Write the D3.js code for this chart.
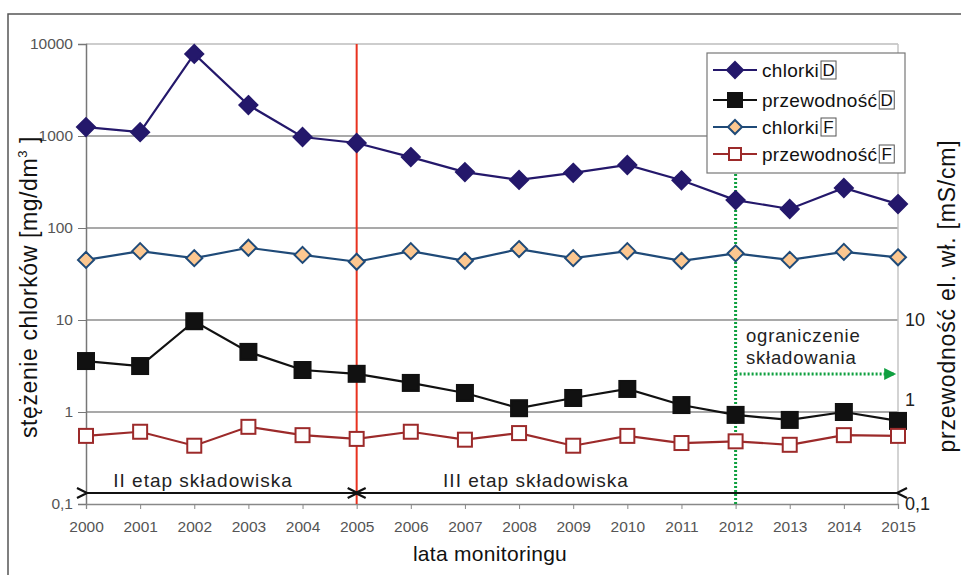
<!DOCTYPE html>
<html><head><meta charset="utf-8">
<script src="https://cdn.jsdelivr.net/npm/d3@7"></script>
<style>body{margin:0;background:#fff;} text{font-family:"Liberation Sans",Arial,sans-serif;}</style>
</head><body>
<svg id="c" width="961" height="575"></svg>
<script>
const years = [2000,2001,2002,2003,2004,2005,2006,2007,2008,2009,2010,2011,2012,2013,2014,2015];
const chlorkiD = [1250,1100,7800,2170,975,840,590,405,333,398,484,330,201,161,272,182];
const przewD   = [3.58,3.16,9.7,4.5,2.86,2.6,2.07,1.61,1.1,1.42,1.78,1.19,0.93,0.82,1.0,0.8];
const chlorkiF = [45,56,47,61,51,43,56,44,59,47,56,44,53,45,55,48];
const przewF   = [0.55,0.61,0.43,0.69,0.56,0.51,0.61,0.5,0.59,0.43,0.55,0.46,0.48,0.44,0.56,0.55];
const leftTicks = [0.1,1,10,100,1000,10000];
const leftTickLabels = ["0,1","1","10","100","1000","10000"];
const rightTicks = [0.1,1,10];
const rightTickLabels = ["0,1","1","10"];
const seriesNames = ["chlorki","przewodność","chlorki","przewodność"];
const seriesTags = ["D","D","F","F"];

const svg = d3.select("#c");
const x = d3.scaleLinear().domain([2000,2015]).range([86,898]);
const y = d3.scaleLog().domain([0.1,10000]).range([504,44]);

// outer frame
svg.append("path").attr("d","M8,575 L8,14 L961,14").attr("fill","none").attr("stroke","#555").attr("stroke-width",1.5);

// gridlines
svg.append("g").selectAll("line").data(leftTicks.slice(1)).join("line")
  .attr("x1",86).attr("x2",898).attr("y1",d=>y(d)).attr("y2",d=>y(d))
  .attr("stroke",d=>d===10000?"#bdbdbd":"#8c8c8c").attr("stroke-width",1.3);
// right axis line
svg.append("line").attr("x1",898).attr("x2",898).attr("y1",44).attr("y2",504).attr("stroke","#c4c4c4").attr("stroke-width",1.5);

// left axis
const la = svg.append("g").attr("transform","translate(86,0)")
  .call(d3.axisLeft(y).tickValues(leftTicks).tickFormat((d,i)=>leftTickLabels[i]).tickSize(8).tickPadding(5));
la.select(".domain").attr("stroke","#777").attr("stroke-width",1.5);
la.selectAll(".tick line").attr("stroke","#777");
la.selectAll("text").attr("font-size",15.5).attr("fill","#555").style("font-family","Liberation Sans, Arial");

// bottom axis
const ba = svg.append("g").attr("transform","translate(0,504)")
  .call(d3.axisBottom(x).tickValues(years).tickFormat(d3.format("d")).tickSize(5).tickPadding(12));
ba.select(".domain").attr("stroke","#888").attr("stroke-width",1.3);
ba.selectAll(".tick line").attr("stroke","#888");
ba.selectAll("text").attr("font-size",15.5).attr("fill","#555").style("font-family","Liberation Sans, Arial");

// right tick labels
svg.append("g").selectAll("text").data(rightTicks).join("text")
  .attr("x",905).attr("y",d=>d===1?y(d)-12:y(d)).attr("dy","0.35em")
  .attr("font-size",18).attr("fill","#222").text((d,i)=>rightTickLabels[i]);

// red vertical line at 2005
svg.append("line").attr("x1",x(2005)).attr("x2",x(2005)).attr("y1",44).attr("y2",504).attr("stroke","#e8321f").attr("stroke-width",2);

// green dotted
svg.append("defs").html(`
 <marker id="gh" viewBox="0 0 10 10" refX="9" refY="5" markerWidth="14" markerHeight="12" markerUnits="userSpaceOnUse" orient="auto"><path d="M0,0 L10,5 L0,10 Z" fill="#0fa040"/></marker>
 <marker id="ah" viewBox="0 0 12 12" refX="1" refY="6" markerWidth="12" markerHeight="12" markerUnits="userSpaceOnUse" orient="auto-start-reverse"><path d="M11,1 L1,6 L11,11" fill="none" stroke="#111" stroke-width="2.2"/></marker>
`);
svg.append("line").attr("x1",x(2012)).attr("x2",x(2012)).attr("y1",174).attr("y2",504)
  .attr("stroke","#0fa040").attr("stroke-width",3).attr("stroke-dasharray","2,2");
svg.append("line").attr("x1",x(2012)).attr("x2",x(2015)-3).attr("y1",374).attr("y2",374)
  .attr("stroke","#0fa040").attr("stroke-width",3).attr("stroke-dasharray","2,2").attr("marker-end","url(#gh)");
svg.append("text").attr("x",746).attr("y",342).attr("font-size",18.5).attr("letter-spacing",0.8).attr("fill","#222").text("ograniczenie");
svg.append("text").attr("x",746).attr("y",364).attr("font-size",18.5).attr("letter-spacing",0.8).attr("fill","#222").text("składowania");

// stage arrows
svg.append("line").attr("x1",x(2000)+1).attr("x2",x(2005)-1).attr("y1",493).attr("y2",493)
  .attr("stroke","#111").attr("stroke-width",2).attr("marker-start","url(#ah)").attr("marker-end","url(#ah)");
svg.append("line").attr("x1",x(2005)+1).attr("x2",x(2015)-1).attr("y1",493).attr("y2",493)
  .attr("stroke","#111").attr("stroke-width",2).attr("marker-start","url(#ah)").attr("marker-end","url(#ah)");
svg.append("text").attr("x",203).attr("y",487).attr("text-anchor","middle").attr("font-size",19).attr("letter-spacing",1).attr("fill","#222").text("II etap składowiska");
svg.append("text").attr("x",536).attr("y",487).attr("text-anchor","middle").attr("font-size",19).attr("letter-spacing",1).attr("fill","#222").text("III etap składowiska");

// series
const line = d3.line().x((d,i)=>x(years[i])).y(d=>y(d));
const styles = [
  {data:chlorkiD, line:"#24186b", shape:"diamond", fill:"#24186b", stroke:"#24186b", size:9},
  {data:przewD, line:"#111", shape:"square", fill:"#111", stroke:"#111", size:8},
  {data:chlorkiF, line:"#1f4a78", shape:"diamond", fill:"#fcc790", stroke:"#1f4a78", size:8},
  {data:przewF, line:"#9c2a2a", shape:"square", fill:"#fff", stroke:"#9c2a2a", size:7},
];
function marker(g, s, cx, cy){
  if(s.shape==="diamond"){
    const r=s.size;
    g.append("path").attr("d",`M${cx},${cy-r} L${cx+r},${cy} L${cx},${cy+r} L${cx-r},${cy} Z`)
     .attr("fill",s.fill).attr("stroke",s.stroke).attr("stroke-width",2);
  } else {
    const r=s.size;
    g.append("rect").attr("x",cx-r).attr("y",cy-r).attr("width",2*r).attr("height",2*r)
     .attr("fill",s.fill).attr("stroke",s.stroke).attr("stroke-width",2);
  }
}
[0,2,1,3].forEach(k=>{
  const s=styles[k];
  const g=svg.append("g");
  g.append("path").attr("d",line(s.data)).attr("fill","none").attr("stroke",s.line).attr("stroke-width",2.2);
  s.data.forEach((v,i)=>marker(g,s,x(years[i]),y(v)));
});

// legend
const lg = svg.append("g");
lg.append("rect").attr("x",707).attr("y",53).attr("width",198).attr("height",120).attr("fill","#fff").attr("stroke","#777").attr("stroke-width",1.2);
const ly=[70,100,127,154];
styles.forEach((s,i)=>{
  lg.append("line").attr("x1",713).attr("x2",757).attr("y1",ly[i]).attr("y2",ly[i]).attr("stroke",s.line).attr("stroke-width",2.2);
  marker(lg,{...s,size:s.size-1},735,ly[i]);
  const t=lg.append("text").attr("x",762).attr("y",ly[i]).attr("dy","0.35em").attr("font-size",19).attr("letter-spacing",0.3).attr("fill","#111").text(seriesNames[i]);
  const w=t.node().getComputedTextLength();
  const bx=762+w+2;
  lg.append("rect").attr("x",bx).attr("y",ly[i]-9).attr("width",15).attr("height",18).attr("fill","none").attr("stroke","#555").attr("stroke-width",1);
  lg.append("text").attr("x",bx+7.5).attr("y",ly[i]).attr("dy","0.36em").attr("text-anchor","middle").attr("font-size",17).attr("fill","#111").text(seriesTags[i]);
});

// axis titles
const lt=svg.append("text").attr("transform","translate(37,287) rotate(-90)").attr("text-anchor","middle").attr("font-size",23).attr("letter-spacing",0.6).attr("fill","#111");
lt.append("tspan").text("stężenie chlorków [mg/dm");
lt.append("tspan").attr("font-size",13).attr("dy",-10).text("3");
lt.append("tspan").attr("dy",10).text(" ]");
svg.append("text").attr("transform","translate(955,296) rotate(-90)").attr("text-anchor","middle").attr("font-size",23).attr("letter-spacing",0.8).attr("fill","#111").text("przewodność el. wł. [mS/cm]");
svg.append("text").attr("x",490).attr("y",561).attr("text-anchor","middle").attr("font-size",21).attr("letter-spacing",0.3).attr("fill","#111").text("lata monitoringu");
</script>
</body></html>
